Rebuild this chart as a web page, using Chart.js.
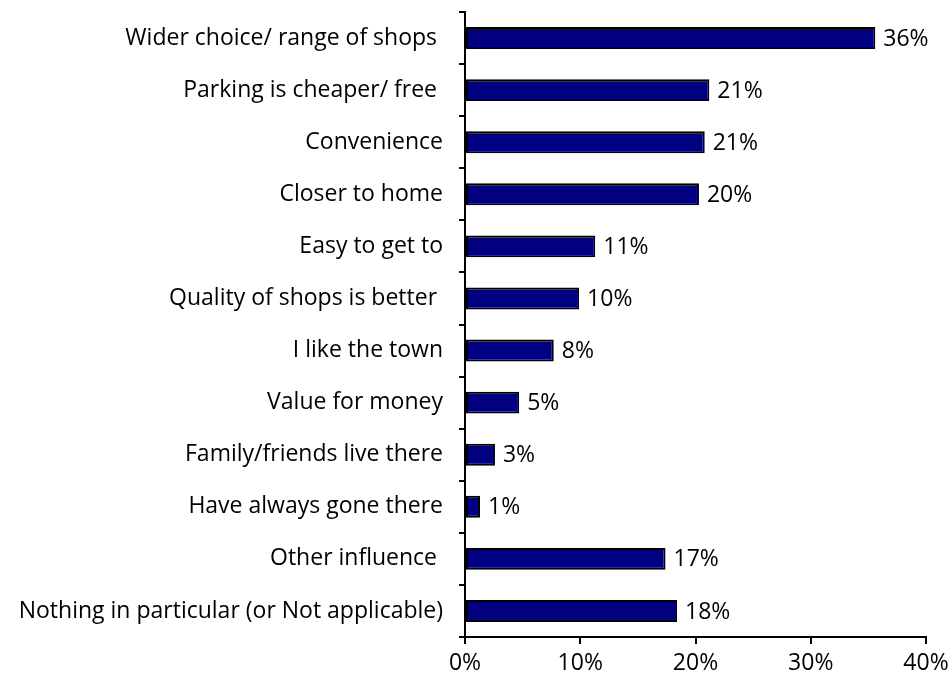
<!DOCTYPE html>
<html>
<head>
<meta charset="utf-8">
<title>Reasons for shopping</title>
<script src="https://cdn.jsdelivr.net/npm/chart.js@4/dist/chart.umd.min.js"></script>
<style>
  html, body { margin: 0; padding: 0; background: #fff; }
  canvas { display: block; }
</style>
</head>
<body>
<canvas id="reasonsChart" width="952" height="691"></canvas>
<script>
// categories, top to bottom
const reasons = [
    'Wider choice/ range of shops ',
    'Parking is cheaper/ free ',
    'Convenience',
    'Closer to home',
    'Easy to get to',
    'Quality of shops is better ',
    'I like the town',
    'Value for money',
    'Family/friends live there',
    'Have always gone there',
    'Other influence ',
    'Nothing in particular (or Not applicable)'
];

// share of respondents, %
const shares = [35.6, 21.2, 20.8, 20.3, 11.3, 9.9, 7.7, 4.7, 2.6, 1.3, 17.4, 18.4];

const xTicks = [0, 10, 20, 30, 40];

const labelFont = { family: '"Open Sans", Lato, sans-serif', size: 23 };

// writes "NN%" just after the end of each bar
const barValueLabels = {
    id: 'barValueLabels',
    afterDatasetsDraw(chart) {
        const ctx = chart.ctx;
        const meta = chart.getDatasetMeta(0);
        ctx.save();
        ctx.font = `${labelFont.size}px ${labelFont.family}`;
        ctx.fillStyle = '#000';
        ctx.textAlign = 'left';
        ctx.textBaseline = 'middle';
        meta.data.forEach((bar, i) => {
            ctx.fillText(Math.round(shares[i]) + '%', bar.x + 8, bar.y + 1);
        });
        ctx.restore();
    }
};

const ctx = document.getElementById('reasonsChart').getContext('2d');
new Chart(ctx, {
    type: 'bar',
    data: {
        labels: reasons,
        datasets: [{
            data: shares,
            backgroundColor: '#000080',
            borderColor: '#000',
            borderWidth: 2,
            borderSkipped: false,
            barPercentage: 0.42,
            categoryPercentage: 1
        }]
    },
    options: {
        indexAxis: 'y',
        responsive: false,
        animation: false,
        layout: { padding: { top: 12, right: 26, left: 0, bottom: 0 } },
        plugins: {
            legend: { display: false },
            tooltip: { enabled: false }
        },
        scales: {
            x: {
                min: 0,
                max: 40,
                afterBuildTicks(scale) {
                    scale.ticks = xTicks.map(v => ({ value: v }));
                },
                afterFit(scale) {
                    scale.height = 54;
                    scale.paddingLeft = 0;
                    scale.paddingRight = 0;
                },
                border: { color: '#000', width: 2 },
                grid: { drawOnChartArea: false, drawTicks: true, tickLength: 7, color: '#000', lineWidth: 2 },
                ticks: {
                    color: '#000',
                    font: labelFont,
                    padding: 6,
                    maxRotation: 0,
                    callback: v => v + '%'
                }
            },
            y: {
                afterFit(scale) {
                    scale.width = 465;
                    scale.paddingTop = 0;
                    scale.paddingBottom = 0;
                },
                border: { color: '#000', width: 2 },
                grid: { drawOnChartArea: false, drawTicks: true, tickLength: 6, color: '#000', lineWidth: 2, offset: true },
                ticks: {
                    color: '#000',
                    font: labelFont,
                    padding: 16,
                    autoSkip: false
                }
            }
        }
    },
    plugins: [barValueLabels]
});
</script>
</body>
</html>
